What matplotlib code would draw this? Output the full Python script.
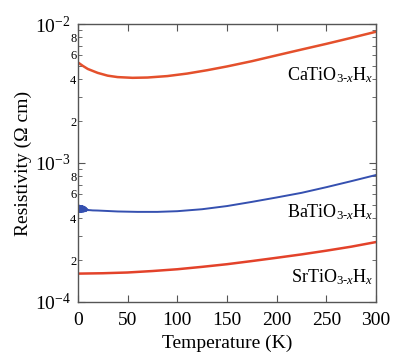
import math
import matplotlib
matplotlib.use("Agg")
import matplotlib.pyplot as plt
from matplotlib.ticker import LogLocator, FuncFormatter

plt.rcParams['font.family'] = ['Liberation Serif', 'DejaVu Serif']
plt.rcParams['mathtext.fontset'] = 'custom'
plt.rcParams['mathtext.rm'] = 'Liberation Serif'
plt.rcParams['mathtext.it'] = 'Liberation Serif:italic'

# Data
T_ca = [0, 5, 10, 20, 30, 40, 55, 70, 90, 110, 130, 150, 175, 200, 225, 250, 275, 300]
rho_ca = [5.3e-3, 5.0e-3, 4.75e-3, 4.45e-3, 4.25e-3, 4.15e-3, 4.1e-3, 4.12e-3, 4.22e-3,
          4.4e-3, 4.65e-3, 4.95e-3, 5.4e-3, 5.95e-3, 6.55e-3, 7.2e-3, 7.95e-3, 8.8e-3]

# BaTiO3-xHx: noisy low-T region followed by smooth curve
T_ba = [0.0, 0.3, 0.6, 0.9, 1.2, 1.5, 1.8, 2.1, 2.4, 2.7, 3.0, 3.3, 3.6, 3.9, 4.2, 4.5,
        4.8, 5.1, 5.4, 5.7, 6.0, 6.3, 6.6, 6.9, 7.2, 7.5, 7.8, 8.1, 8.4, 8.7, 9.0, 9.5, 10,
        12, 15, 20, 40, 60, 80, 100, 125, 150, 175, 200, 225, 250, 275, 300]
rho_ba = [4.7e-4, 4.95e-4, 4.45e-4, 4.95e-4, 4.45e-4, 4.92e-4, 4.45e-4, 4.92e-4, 4.46e-4,
          4.9e-4, 4.46e-4, 4.9e-4, 4.47e-4, 4.88e-4, 4.47e-4, 4.88e-4, 4.48e-4, 4.86e-4,
          4.48e-4, 4.85e-4, 4.48e-4, 4.84e-4, 4.5e-4, 4.8e-4, 4.5e-4, 4.78e-4, 4.52e-4,
          4.74e-4, 4.54e-4, 4.68e-4, 4.56e-4, 4.64e-4, 4.58e-4, 4.58e-4, 4.56e-4, 4.55e-4,
          4.48e-4, 4.45e-4, 4.45e-4, 4.5e-4, 4.65e-4, 4.9e-4, 5.25e-4, 5.65e-4, 6.1e-4,
          6.7e-4, 7.4e-4, 8.2e-4]

T_sr = [0, 25, 50, 75, 100, 125, 150, 175, 200, 225, 250, 275, 300]
rho_sr = [1.6e-4, 1.61e-4, 1.63e-4, 1.67e-4, 1.72e-4, 1.79e-4, 1.87e-4, 1.97e-4,
          2.08e-4, 2.2e-4, 2.34e-4, 2.5e-4, 2.7e-4]

labels = [r'CaTiO$_{3\text{-}\mathit{x}}$H$_{\mathit{x}}$',
          r'BaTiO$_{3\text{-}\mathit{x}}$H$_{\mathit{x}}$',
          r'SrTiO$_{3\text{-}\mathit{x}}$H$_{\mathit{x}}$']
label_y = [4.3e-3, 4.4e-4, 1.5e-4]
xticks = [0, 50, 100, 150, 200, 250, 300]

fig = plt.figure(figsize=(3.93, 3.53), dpi=100)
ax = fig.add_axes([0.198, 0.1445, 0.759, 0.7875])

ax.plot(T_ca, rho_ca, color='#E4502C', lw=1.8)
ax.plot(T_ba, rho_ba, color='#3550B0', lw=1.4)
ax.plot(T_sr, rho_sr, color='#E3422A', lw=1.8)

ax.set_yscale('log')
ax.set_xlim(0, 300)
ax.set_ylim(1e-4, 1e-2)
ax.set_xticks(xticks)

ax.yaxis.set_major_locator(LogLocator(base=10, numticks=10))
ax.yaxis.set_minor_locator(LogLocator(base=10, subs=range(2, 10), numticks=20))


def minor_fmt(v, pos):
    m = v / 10 ** math.floor(math.log10(v) + 1e-9)
    mi = int(round(m))
    return str(mi) if mi in (2, 4, 6, 8) else ''


ax.yaxis.set_minor_formatter(FuncFormatter(minor_fmt))
ax.tick_params(axis='y', which='minor', labelsize=9, pad=1)
ax.tick_params(axis='y', which='major', labelsize=14, pad=5)
ax.tick_params(axis='x', which='major', labelsize=14, pad=7)
ax.tick_params(which='both', direction='in', top=True, right=True, color='#555555')
ax.tick_params(which='major', length=5)
ax.tick_params(which='minor', length=3)

for s in ax.spines.values():
    s.set_color('#555555')
    s.set_linewidth(1.0)

for lab, y in zip(labels, label_y):
    ax.text(297, y, lab, ha='right', va='center', fontsize=13)

ax.set_xlabel('Temperature (K)', fontsize=14, labelpad=4)
ax.set_ylabel('Resistivity (Ω cm)', fontsize=14, labelpad=2)

fig.savefig('out.png', dpi=100)
